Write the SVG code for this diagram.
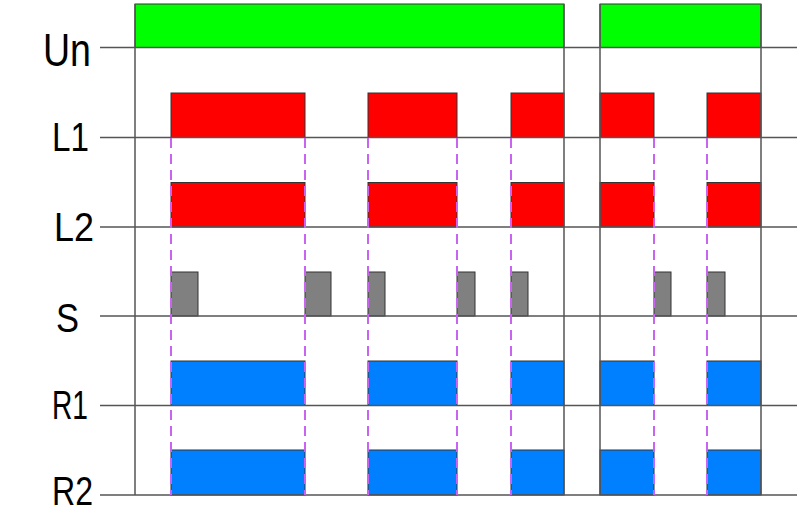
<svg xmlns="http://www.w3.org/2000/svg" width="800" height="513" viewBox="0 0 800 513">
<style>
.lbl{font-family:"Liberation Sans",Arial,sans-serif;fill:#000}
.grid{stroke:#555;stroke-width:1.5;fill:none}
.on{stroke:#333;stroke-width:1}
.g{fill:#00ff00}
.r{fill:#ff0000}
.b{fill:#0080ff}
.s{fill:#808080}
.dash{stroke:#c864f0;stroke-width:2;stroke-dasharray:10,6;fill:none}
</style>
<rect width="800" height="513" fill="#fff"/>
<g id="labels">
<text class="lbl" x="43" y="66" font-size="47" textLength="48" lengthAdjust="spacingAndGlyphs">Un</text>
<text class="lbl" x="52" y="151" font-size="40" textLength="37" lengthAdjust="spacingAndGlyphs">L1</text>
<text class="lbl" x="54" y="241" font-size="40" textLength="40" lengthAdjust="spacingAndGlyphs">L2</text>
<text class="lbl" x="56" y="332" font-size="40" textLength="23" lengthAdjust="spacingAndGlyphs">S</text>
<text class="lbl" x="52" y="419" font-size="40" textLength="36" lengthAdjust="spacingAndGlyphs">R1</text>
<text class="lbl" x="52" y="505" font-size="40" textLength="41" lengthAdjust="spacingAndGlyphs">R2</text>
</g>
<g id="Un">
<rect class="g on" x="135" y="4" width="429" height="43.5"/>
<rect class="g on" x="600" y="4" width="161" height="43.5"/>
</g>
<g id="L1">
<rect class="r on" x="171" y="93" width="134" height="44.5"/>
<rect class="r on" x="368" y="93" width="89" height="44.5"/>
<rect class="r on" x="511" y="93" width="53" height="44.5"/>
<rect class="r on" x="600" y="93" width="54" height="44.5"/>
<rect class="r on" x="707" y="93" width="54" height="44.5"/>
</g>
<g id="L2">
<rect class="r on" x="171" y="182.5" width="134" height="44.5"/>
<rect class="r on" x="368" y="182.5" width="89" height="44.5"/>
<rect class="r on" x="511" y="182.5" width="53" height="44.5"/>
<rect class="r on" x="600" y="182.5" width="54" height="44.5"/>
<rect class="r on" x="707" y="182.5" width="54" height="44.5"/>
</g>
<g id="S">
<rect class="s on" x="171" y="272" width="27" height="44"/>
<rect class="s on" x="305" y="272" width="26" height="44"/>
<rect class="s on" x="368" y="272" width="17" height="44"/>
<rect class="s on" x="457" y="272" width="18" height="44"/>
<rect class="s on" x="511" y="272" width="17" height="44"/>
<rect class="s on" x="654" y="272" width="17" height="44"/>
<rect class="s on" x="707" y="272" width="18" height="44"/>
</g>
<g id="R1">
<rect class="b on" x="171" y="361" width="134" height="44.5"/>
<rect class="b on" x="368" y="361" width="89" height="44.5"/>
<rect class="b on" x="511" y="361" width="53" height="44.5"/>
<rect class="b on" x="600" y="361" width="54" height="44.5"/>
<rect class="b on" x="707" y="361" width="54" height="44.5"/>
</g>
<g id="R2">
<rect class="b on" x="171" y="450" width="134" height="45"/>
<rect class="b on" x="368" y="450" width="89" height="45"/>
<rect class="b on" x="511" y="450" width="53" height="45"/>
<rect class="b on" x="600" y="450" width="54" height="45"/>
<rect class="b on" x="707" y="450" width="54" height="45"/>
</g>
<g id="connectors">
<path class="grid" d="M100 47.5H797M100 137.5H797M100 227H797M100 316H797M100 405.5H797M100 495H797"/>
<path class="grid" d="M135 4V495M564 4V495M600 4V495M761 4V495"/>
<path class="dash" d="M171 138V495M305 138V495M368 138V495M457 138V495M511 138V495M654 138V495M707 138V495"/>
</g>
</svg>
